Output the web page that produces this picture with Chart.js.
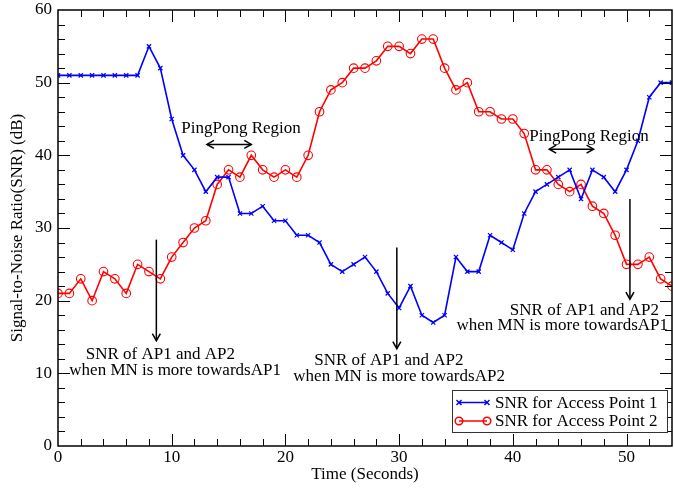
<!DOCTYPE html>
<html>
<head>
<meta charset="utf-8">
<script src="https://cdn.jsdelivr.net/npm/chart.js@4.4.0/dist/chart.umd.min.js"></script>
<style>
  html, body { margin: 0; padding: 0; background: #fff; }
  #wrap { width: 674px; height: 491px; }
</style>
</head>
<body>
<div id="wrap"><canvas id="chart1"></canvas></div>
<script>
// time axis, one reading per second
const timeSec = [0,1,2,3,4,5,6,7,8,9,10,11,12,13,14,15,16,17,18,19,20,21,22,23,24,25,26,27,
    28,29,30,31,32,33,34,35,36,37,38,39,40,41,42,43,44,45,46,47,48,49,50,51,52,53,54];
const snrAP1 = [51,51,51,51,51,51,51,51,55,52,45,40,38,35,37,37,32,32,33,31,31,29,29,28,25,24,25,26,
    24,21,19,22,18,17,18,26,24,24,29,28,27,32,35,36,37,38,34,38,37,35,38,42,48,50,50];
const snrAP2 = [21,21,23,20,24,23,21,25,24,23,26,28,30,31,36,38,37,40,38,37,38,37,40,46,49,50,52,52,
    53,55,55,54,56,56,52,49,50,46,46,45,45,43,38,38,36,35,36,33,32,29,25,25,26,23,22];

const seriesNames = ['SNR for Access Point 1', 'SNR for Access Point 2'];
const yTickValues = [0, 10, 20, 30, 40, 50, 60];

// annotations (data coordinates)
const arrowNotes = [
    { x: 8.65, from: 28.4, to: 14.5, lines: [[9.0, 12.6, 'SNR of AP1 and AP2'], [10.3, 10.4, 'when MN is more towardsAP1']] },
    { x: 29.8, from: 27.3, to: 13.4, lines: [[29.1, 11.7, 'SNR of AP1 and AP2'], [30.0, 9.5, 'when MN is more towardsAP2']] },
    { x: 50.3, from: 34.0, to: 20.2, lines: [[46.3, 18.6, 'SNR of AP1 and AP2'], [44.35, 16.6, 'when MN is more towardsAP1']] }
];
const pingPong = [
    { tx: 16.1, ty: 43.7, x1: 13.1, x2: 17.0, y: 41.5 },
    { tx: 46.7, ty: 42.6, x1: 43.2, x2: 47.1, y: 40.85 }
];

const FONT = '"Liberation Serif", "Times New Roman", serif';
const FS = 17;

const toXY = (ys) => timeSec.map((t, i) => ({ x: t, y: ys[i] }));

function seg(ctx, x1, y1, x2, y2) {
    ctx.beginPath(); ctx.moveTo(x1, y1); ctx.lineTo(x2, y2); ctx.stroke();
}
function head(ctx, x, y, dx, dy) {
    // open chevron head pointing along (dx,dy)
    const len = 7, w = 4;
    const bx = x - dx * len, by = y - dy * len;
    ctx.beginPath();
    ctx.moveTo(bx - dy * w, by + dx * w);
    ctx.lineTo(x, y);
    ctx.lineTo(bx + dy * w, by - dx * w);
    ctx.stroke();
}

const noPad = s => { s.paddingLeft = 0; s.paddingRight = 0; s.paddingTop = 0; s.paddingBottom = 0; };

const decor = {
    id: 'decor',
    afterDatasetsDraw(chart) {
        const { ctx, chartArea: a, scales: { x, y } } = chart;
        ctx.save();
        // frame + inward ticks on all four sides
        ctx.strokeStyle = '#000';
        ctx.lineWidth = 1.5;
        ctx.strokeRect(a.left, a.top, a.right - a.left, a.bottom - a.top);
        ctx.lineWidth = 1;
        for (let v = 2; v < 54; v += 2) {
            const px = Math.round(x.getPixelForValue(v)) + 0.5;
            const len = v % 10 === 0 ? 12 : 7;
            seg(ctx, px, a.bottom, px, a.bottom - len);
            seg(ctx, px, a.top, px, a.top + len);
        }
        for (let v = 2; v < 60; v += 2) {
            const py = Math.round(y.getPixelForValue(v)) + 0.5;
            const len = v % 10 === 0 ? 12 : 7;
            seg(ctx, a.left, py, a.left + len, py);
            seg(ctx, a.right, py, a.right - len, py);
        }

        ctx.font = FS + 'px ' + FONT;
        ctx.fillStyle = '#000';
        ctx.textAlign = 'center';
        ctx.textBaseline = 'middle';
        ctx.lineWidth = 1.5;
        // vertical arrows with notes
        arrowNotes.forEach(n => {
            const px = x.getPixelForValue(n.x);
            const y1 = y.getPixelForValue(n.from), y2 = y.getPixelForValue(n.to);
            seg(ctx, px, y1, px, y2);
            head(ctx, px, y2, 0, 1);
            n.lines.forEach(([lx, ly, txt]) => {
                ctx.fillText(txt, x.getPixelForValue(lx), y.getPixelForValue(ly));
            });
        });
        // ping-pong regions
        pingPong.forEach(p => {
            ctx.fillText('PingPong Region', x.getPixelForValue(p.tx), y.getPixelForValue(p.ty));
            const x1 = x.getPixelForValue(p.x1), x2 = x.getPixelForValue(p.x2), py = y.getPixelForValue(p.y);
            seg(ctx, x1, py, x2, py);
            head(ctx, x1, py, -1, 0);
            head(ctx, x2, py, 1, 0);
        });

        // legend box inside the plot
        const lx = 452, ly = 390, lw = 215, lh = 42;
        ctx.fillStyle = '#fff';
        ctx.fillRect(lx, ly, lw, lh);
        ctx.strokeStyle = '#333';
        ctx.lineWidth = 1;
        ctx.strokeRect(lx + 0.5, ly + 0.5, lw, lh);
        const rows = [ly + 12.5, ly + 31];
        chart.data.datasets.forEach((ds, i) => {
            const ry = rows[i];
            ctx.strokeStyle = ds.borderColor;
            ctx.lineWidth = 1.5;
            seg(ctx, 459, ry, 487, ry);
            if (i === 0) {
                [459, 487].forEach(cx => { seg(ctx, cx - 2.5, ry - 2.5, cx + 2.5, ry + 2.5); seg(ctx, cx - 2.5, ry + 2.5, cx + 2.5, ry - 2.5); });
            } else {
                [459, 487].forEach(cx => { ctx.beginPath(); ctx.arc(cx, ry, 3.8, 0, Math.PI * 2); ctx.stroke(); });
            }
            ctx.fillStyle = '#000';
            ctx.textAlign = 'left';
            ctx.fillText(seriesNames[i], 495, ry + 1);
        });
        ctx.restore();
    }
};

const config = {
    type: 'line',
    data: {
        datasets: [{
            label: seriesNames[0],
            data: toXY(snrAP1),
            borderColor: '#0000ff',
            borderWidth: 1.6,
            pointStyle: 'crossRot',
            pointRadius: 3,
            pointBorderWidth: 1.2,
            pointBorderColor: '#0000ff',
            tension: 0
        }, {
            label: seriesNames[1],
            data: toXY(snrAP2),
            borderColor: '#ff0000',
            borderWidth: 1.6,
            pointStyle: 'circle',
            pointRadius: 4.3,
            pointBorderWidth: 1.1,
            pointBorderColor: '#ff0000',
            pointBackgroundColor: 'rgba(0,0,0,0)',
            tension: 0
        }]
    },
    options: {
        responsive: false,
        animation: false,
        layout: { autoPadding: false, padding: { top: 10, right: 2, left: 0, bottom: 0 } },
        plugins: {
            legend: { display: false },
            tooltip: { enabled: false }
        },
        scales: {
            x: {
                type: 'linear',
                min: 0,
                max: 54,
                grid: { display: false, drawTicks: false },
                border: { display: false },
                afterBuildTicks: s => { s.ticks = s.ticks.filter(t => t.value % 10 === 0); },
                afterFit: s => { s.height = 45; noPad(s); },
                ticks: { stepSize: 10, padding: 1, color: '#000', font: { family: FONT, size: FS }, maxRotation: 0 },
                title: { display: true, text: 'Time (Seconds)', color: '#000', font: { family: FONT, size: FS }, padding: { top: 0, bottom: 6 } }
            },
            y: {
                type: 'linear',
                min: 0,
                max: 60,
                grid: { display: false, drawTicks: false },
                border: { display: false },
                afterBuildTicks: s => { s.ticks = yTickValues.map(v => ({ value: v })); },
                afterFit: s => { s.width = 58; noPad(s); },
                ticks: { padding: 6, color: '#000', font: { family: FONT, size: FS } },
                title: { display: true, text: 'Signal-to-Noise Ratio(SNR) (dB)', color: '#000', font: { family: FONT, size: FS }, padding: { top: 7, bottom: 0 } }
            }
        }
    },
    plugins: [decor]
};

const canvas = document.getElementById('chart1');
canvas.width = 674;
canvas.height = 491;
const chart1 = new Chart(canvas.getContext('2d'), config);
</script>
</body>
</html>
